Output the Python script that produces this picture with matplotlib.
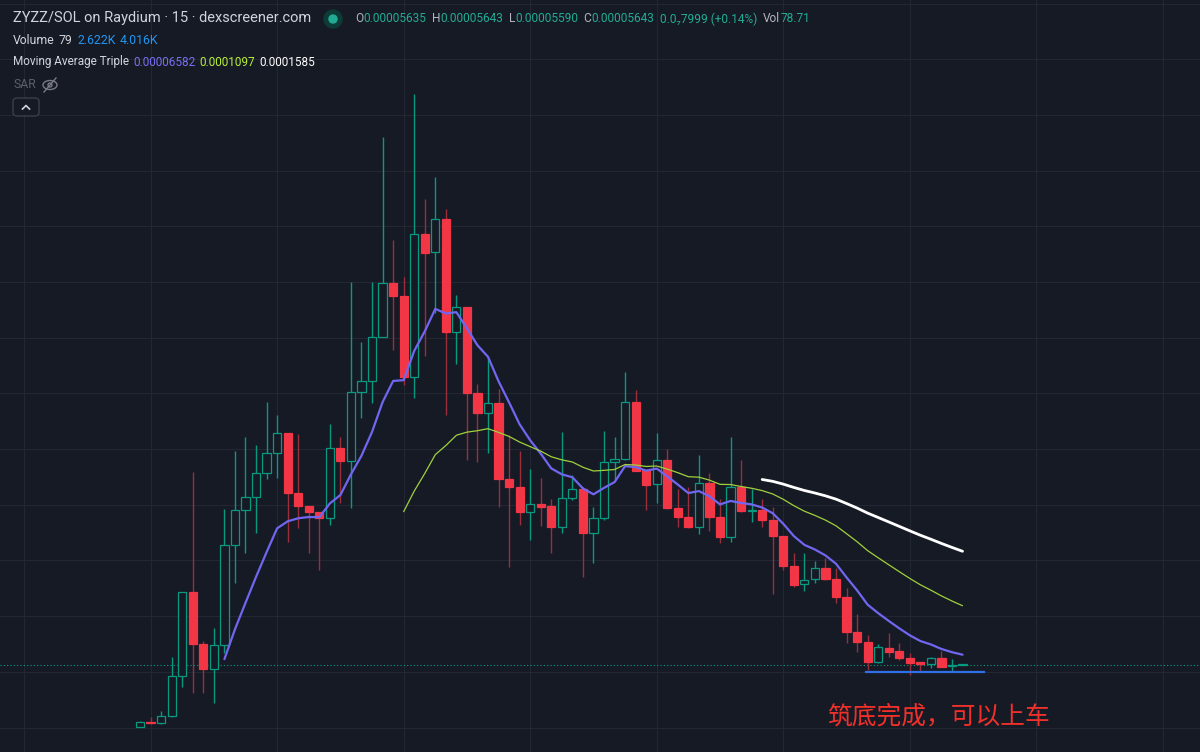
import numpy as np
import matplotlib.pyplot as plt
from matplotlib.patches import Ellipse, FancyBboxPatch

plt.rcParams['font.family'] = ['Roboto', 'Noto Sans CJK SC', 'DejaVu Sans']

# 15-minute candles, prices in micro-SOL (1e-6 SOL)
opens = [0.5, 5.4, 4.0, 10.3, 46.2, 121.7, 75.0, 52.5, 74.1, 163.9,
         195.3, 207.0, 228.5, 246.4, 264.4, 210.5, 198.9, 193.5, 188.1, 250.6,
         239.3, 301.3, 311.2, 350.7, 399.1, 387.5, 314.7, 443.2, 427.0, 456.6,
         355.3, 377.7, 300.4, 282.5, 291.4, 223.1, 215.9, 193.5, 200.7, 198.9,
         179.7, 206.1, 214.2, 174.7, 188.1, 238.4, 241.1, 292.3, 231.3, 218.6,
         240.2, 197.1, 189.0, 180.0, 219.5, 189.0, 171.1, 215.9, 194.4, 195.3,
         186.3, 172.0, 145.0, 128.8, 133.3, 143.2, 133.3, 117.2, 85.8, 76.8,
         58.8, 71.4, 68.7, 62.4, 58.8, 57.0, 62.4, 55.2, 56.35]
highs = [5.8, 9.4, 14.8, 63.3, 121.7, 229.4, 77.7, 89.4, 196.2, 248.3,
         260.9, 253.7, 292.4, 280.7, 264.4, 263.5, 198.9, 193.5, 272.5, 260.5,
         400.0, 346.2, 400.0, 530.3, 437.8, 404.5, 568.9, 474.6, 494.3, 465.6,
         388.4, 377.7, 308.5, 332.7, 304.0, 262.6, 248.3, 232.1, 224.0, 205.2,
         265.3, 226.8, 216.0, 198.0, 266.3, 260.9, 319.2, 303.1, 231.3, 264.4,
         250.1, 214.2, 216.0, 244.7, 228.5, 205.2, 260.5, 240.2, 214.2, 205.2,
         198.0, 172.0, 156.7, 156.7, 149.5, 152.2, 143.2, 125.3, 101.9, 83.1,
         75.0, 84.9, 75.9, 66.9, 58.8, 63.3, 68.7, 61.5, 56.43]
lows = [0.2, 3.1, 3.1, 9.4, 36.4, 31.0, 31.0, 22.0, 66.9, 129.8,
        156.7, 174.7, 223.1, 224.0, 166.6, 179.2, 156.7, 141.4, 181.8, 201.4,
        197.1, 277.9, 291.4, 350.7, 339.0, 307.6, 295.9, 333.6, 372.2, 280.6,
        326.4, 240.2, 238.4, 246.4, 197.9, 144.1, 181.8, 168.4, 180.9, 156.7,
        174.7, 204.3, 135.2, 147.7, 186.3, 222.2, 240.2, 230.4, 195.3, 201.4,
        196.2, 180.0, 179.2, 173.8, 176.5, 165.7, 166.6, 193.5, 184.5, 179.8,
        119.9, 141.4, 126.2, 122.6, 129.7, 132.4, 111.8, 75.9, 67.8, 51.6,
        57.9, 63.3, 60.6, 47.1, 50.7, 53.4, 54.3, 49.8, 55.90]
closes = [4.9, 4.0, 10.3, 46.2, 121.7, 75.0, 52.5, 74.1, 163.9, 195.3,
          207.0, 228.5, 246.4, 264.4, 210.5, 198.9, 193.5, 188.1, 250.6, 239.3,
          301.3, 311.2, 350.7, 399.1, 387.5, 314.7, 443.2, 426.1, 456.6, 355.3,
          377.7, 300.4, 282.5, 291.4, 223.1, 215.9, 193.5, 200.7, 198.0, 179.7,
          206.1, 214.2, 174.7, 188.1, 238.4, 241.1, 292.3, 230.4, 217.7, 240.2,
          197.1, 189.0, 180.0, 219.5, 189.0, 171.1, 215.9, 194.4, 195.3, 186.3,
          172.0, 145.0, 127.9, 132.4, 143.2, 133.3, 117.2, 85.8, 76.8, 58.8,
          72.3, 67.8, 62.4, 57.9, 57.0, 62.4, 54.3, 56.1, 56.43]

ma_periods = [9, 26, 60]
support_level = 49.8          # hand-drawn blue line
support_span = (68.85, 80.0)  # in bar index units
note = '筑底完成，可以上车'

bg = '#161a25'
up = '#089981'
down = '#f23645'
down_wick = '#9a2f3b'
grid = '#222733'


def ema(vals, n):
    vals = np.asarray(vals, dtype=float)
    out = np.full(len(vals), np.nan)
    out[n - 1] = vals[:n].mean()
    k = 2 / (n + 1)
    for i in range(n, len(vals)):
        out[i] = out[i - 1] + k * (vals[i] - out[i - 1])
    return out


W, H = 1200, 752
fig = plt.figure(figsize=(12, 7.52), dpi=100, facecolor=bg)
ax = fig.add_axes([0, 0, 1, 1], facecolor=bg)

x = np.arange(len(closes))
o = np.array(opens)
c = np.array(closes)
rising = c >= o

# grid
for v in range(0, 700, 50):
    ax.axhline(v, color=grid, lw=0.8, zorder=0)
for v in range(-11, 100, 12):
    ax.axvline(v, color=grid, lw=0.8, zorder=0)

# wicks and bodies
ax.vlines(x, lows, highs, colors=[up if r else down_wick for r in rising], lw=1, zorder=2)
bottoms = np.minimum(o, c)
heights = np.maximum(np.abs(c - o), 0.9)
ax.bar(x, heights, bottom=bottoms, width=0.78,
       color=[bg if r else down for r in rising],
       edgecolor=[up if r else down for r in rising], linewidth=0.9, zorder=3)

# moving averages
ma_colors = ['#7166f0', '#9fd13c', '#ffffff']
ma_widths = [1.6, 0.9, 2.0]
for n, col, lw in zip(ma_periods, ma_colors, ma_widths):
    ax.plot(x, ema(closes, n), color=col, lw=lw, zorder=4, solid_capstyle='round')

# last price line and drawn support line
ax.axhline(closes[-1], color=up, lw=0.8, ls=(0, (1, 2)), zorder=1)
ax.plot(support_span, [support_level, support_level], color='#2f6fe8', lw=1.6, zorder=5)

ax.set_xlim(-13.28, 100.52)
ax.set_ylim(-21.96, 653.3)
ax.set_xticks([])
ax.set_yticks([])
for s in ax.spines.values():
    s.set_visible(False)

# header texts
rend = fig.canvas.get_renderer()


def row(x0, y0, pieces, size):
    xp = x0
    for txt, col, gap in pieces:
        t = fig.text(xp / W, 1 - y0 / H, txt, color=col, fontsize=size, va='center', ha='left')
        xp += t.get_window_extent(renderer=rend).width + gap


fig.text(13 / W, 1 - 18 / H, 'ZYZZ/SOL on Raydium · 15 · dexscreener.com',
         color='#d1d4dc', fontsize=10.5, va='center')
fig.add_artist(Ellipse((333 / W, 1 - 19 / H), 18 / W, 18 / H, transform=fig.transFigure,
                       color='#0d3b35', zorder=5))
fig.add_artist(Ellipse((333 / W, 1 - 19 / H), 8 / W, 8 / H, transform=fig.transFigure,
                       color='#22ab94', zorder=6))
lab = '#b2b5be'
val = '#22ab94'
row(355, 19, [('O', lab, 0.5), ('0.00005635', val, 5), ('H', lab, 0.5), ('0.00005643', val, 5),
              ('L', lab, 0.5), ('0.00005590', val, 5), ('C', lab, 0.5), ('0.00005643', val, 5),
              ('0.0₇7999 (+0.14%)', val, 6), ('Vol', lab, 0.5), ('78.71', val, 0)], 8.6)
row(13, 40, [('Volume', '#d1d4dc', 4), ('79', '#d1d4dc', 5), ('2.622K', '#2196f3', 4),
             ('4.016K', '#2196f3', 0)], 8.8)
row(13, 62, [('Moving Average Triple', '#d1d4dc', 4), ('0.00006582', '#7a6ff0', 4),
             ('0.0001097', '#b9f03a', 4), ('0.0001585', '#ffffff', 0)], 8.5)
fig.text(13 / W, 1 - 85 / H, 'SAR', color='#5d606b', fontsize=8.8, va='center')

# hidden-indicator eye icon
fig.add_artist(Ellipse((50 / W, 1 - 85 / H), 14 / W, 9 / H, transform=fig.transFigure,
                       fill=False, ec='#787b86', lw=1))
fig.add_artist(Ellipse((50 / W, 1 - 85 / H), 4 / W, 4 / H, transform=fig.transFigure,
                       fill=False, ec='#787b86', lw=1))
fig.add_artist(plt.Line2D([44 / W, 56 / W], [1 - 92 / H, 1 - 78 / H], transform=fig.transFigure,
                          color='#787b86', lw=1))

# collapse button
fig.add_artist(FancyBboxPatch((13 / W, 1 - 116 / H), 26 / W, 18 / H,
                              boxstyle='round,pad=0,rounding_size=0.004', transform=fig.transFigure,
                              fc=bg, ec='#3a3e4a', lw=1))
fig.add_artist(plt.Line2D([22.5 / W, 26 / W, 29.5 / W], [1 - 109 / H, 1 - 105.5 / H, 1 - 109 / H],
                          transform=fig.transFigure, color='#d1d4dc', lw=1.2))

# annotation
fig.text(827 / W, 1 - 717 / H, note, color='#f2302a', fontsize=17.8, va='center', ha='left')

fig.savefig('out.png', dpi=100, facecolor=bg)
